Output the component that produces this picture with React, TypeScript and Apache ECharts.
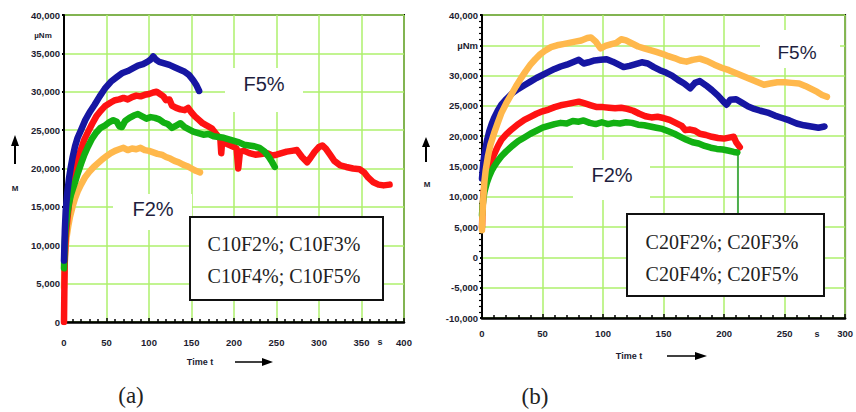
import React, { useEffect, useRef } from "react";
import * as echarts from "echarts";

// ---------- Panel (a) data: [time s, moment µNm] ----------
const a_C10F5: number[][] = [[0, 8000], [1, 12000], [2, 14500], [4, 17000], [6, 18800], [8, 20200], [10, 21400], [13, 22900], [16, 24000], [20, 25000], [25, 26300], [30, 27300], [36, 28300], [42, 29400], [48, 30400], [55, 31300], [62, 31900], [68, 32400], [75, 32700], [82, 33100], [87, 33400], [93, 33600], [98, 33900], [102, 34200], [105, 34600], [108, 34200], [112, 33900], [118, 33700], [124, 33500], [130, 33200], [136, 32900], [142, 32600], [147, 32200], [152, 31500], [156, 30800], [159, 30100]];
const a_C10F4: number[][] = [[0, 0], [0.5, 5000], [1, 8500], [2, 11000], [4, 13500], [6, 15500], [8, 17100], [10, 18500], [13, 19900], [16, 21200], [20, 22500], [24, 23800], [28, 24700], [33, 25800], [38, 26800], [43, 27500], [48, 28100], [55, 28600], [60, 28900], [65, 29000], [70, 29200], [75, 29000], [80, 29300], [85, 29500], [90, 29400], [95, 29600], [100, 29700], [105, 29900], [109, 30000], [113, 29700], [117, 29400], [120, 28900], [124, 29000], [127, 28200], [132, 27900], [137, 27700], [142, 27600], [146, 27900], [150, 27300], [154, 26800], [158, 26400], [163, 25900], [168, 25600], [174, 25200], [179, 24500], [184, 23800], [185, 22000], [186, 23500], [190, 23300], [196, 23000], [200, 22800], [203, 22600], [205, 20000], [207, 22200], [212, 22300], [218, 22000], [225, 21800], [232, 21900], [239, 22000], [245, 21700], [250, 21800], [256, 22000], [262, 22200], [268, 22300], [274, 22400], [280, 21500], [286, 20800], [290, 21400], [295, 22200], [300, 22800], [304, 23000], [308, 22600], [313, 21800], [318, 21000], [325, 20400], [332, 20200], [340, 20000], [348, 19900], [353, 19500], [358, 18800], [364, 18200], [370, 17900], [376, 17800], [383, 17900]];
const a_C10F3: number[][] = [[0, 7000], [1, 10500], [2, 12300], [4, 14200], [6, 15500], [8, 16500], [10, 17200], [13, 18200], [16, 19300], [20, 20600], [24, 21800], [28, 22800], [33, 23900], [38, 24700], [43, 25300], [48, 25600], [53, 26000], [58, 26300], [62, 26100], [65, 25500], [68, 25400], [72, 26200], [77, 26600], [82, 26900], [87, 27100], [92, 26800], [97, 26500], [102, 26700], [107, 26600], [112, 26400], [117, 26000], [122, 25800], [127, 25300], [132, 25600], [137, 25900], [142, 25400], [147, 25100], [152, 24800], [158, 24600], [164, 24400], [170, 24500], [176, 24200], [182, 24100], [188, 24000], [194, 23800], [200, 23600], [206, 23400], [212, 23100], [218, 23000], [224, 22900], [230, 22700], [236, 22200], [241, 21500], [245, 20800], [248, 20200]];
const a_C10F2: number[][] = [[0, 4500], [0.5, 6500], [1, 8000], [2, 9800], [3, 11000], [5, 12500], [7, 13700], [10, 15000], [13, 16100], [16, 17000], [20, 17900], [25, 18900], [30, 19600], [35, 20200], [40, 20700], [45, 21200], [50, 21600], [55, 22000], [60, 22300], [65, 22500], [70, 22700], [75, 22400], [80, 22600], [85, 22500], [90, 22700], [95, 22400], [100, 22300], [105, 22100], [110, 21900], [115, 21800], [120, 21500], [125, 21300], [130, 21000], [135, 20800], [140, 20500], [145, 20300], [150, 20000], [155, 19700], [160, 19500]];

// ---------- Panel (b) data ----------
const b_C20F5: number[][] = [[0, 4500], [0.5, 7500], [1, 9500], [2, 12500], [3, 14300], [5, 16800], [7, 18600], [10, 20500], [13, 22200], [16, 23800], [20, 25400], [24, 26800], [28, 28200], [32, 29500], [36, 30700], [40, 31800], [44, 32700], [48, 33500], [52, 34100], [57, 34700], [62, 35000], [67, 35200], [72, 35400], [77, 35600], [82, 35800], [87, 36200], [90, 36300], [94, 35600], [98, 34500], [102, 34900], [107, 35200], [111, 35400], [115, 36000], [119, 35800], [124, 35300], [129, 34800], [134, 34500], [139, 34200], [144, 33900], [149, 33600], [154, 33200], [159, 32900], [164, 32500], [169, 32300], [174, 32600], [180, 32800], [186, 32400], [192, 31800], [198, 31300], [204, 30900], [210, 30400], [216, 29900], [222, 29400], [228, 28900], [233, 28500], [238, 28700], [244, 28900], [250, 28900], [256, 28800], [262, 28700], [267, 28300], [272, 27800], [277, 27300], [281, 26800], [285, 26500]];
const b_C20F4: number[][] = [[0, 13000], [1, 15500], [2, 17000], [4, 19200], [6, 20800], [8, 22000], [10, 23000], [13, 24200], [16, 25200], [20, 26100], [25, 27100], [30, 27800], [35, 28400], [40, 29000], [45, 29600], [50, 30100], [55, 30600], [60, 31100], [65, 31500], [70, 31800], [75, 32200], [80, 32600], [84, 32000], [88, 32200], [93, 32500], [98, 32600], [103, 32700], [108, 32300], [113, 31800], [117, 31400], [122, 31600], [127, 31900], [132, 32200], [137, 32000], [142, 31400], [147, 30900], [152, 30500], [157, 30000], [162, 29300], [167, 28700], [172, 27900], [176, 28800], [180, 29100], [185, 28400], [190, 27600], [195, 26700], [200, 25600], [202, 25200], [205, 26000], [210, 26100], [215, 25500], [220, 24900], [225, 24500], [230, 24200], [236, 23900], [242, 23400], [248, 23000], [254, 22600], [260, 22100], [266, 21800], [272, 21600], [278, 21400], [283, 21600]];
const b_C20F3: number[][] = [[0, 5000], [0.5, 8000], [1, 10000], [2, 11800], [4, 13600], [6, 14900], [8, 16000], [10, 17000], [13, 18300], [16, 19400], [20, 20300], [25, 21200], [30, 22000], [35, 22700], [40, 23200], [45, 23700], [50, 24100], [55, 24400], [60, 24800], [65, 25100], [70, 25300], [75, 25500], [80, 25700], [85, 25400], [90, 25100], [95, 24800], [100, 24800], [105, 24700], [110, 24600], [115, 24700], [120, 24500], [125, 24200], [130, 23700], [135, 23300], [140, 23100], [145, 23200], [150, 23000], [155, 22700], [160, 22200], [165, 21700], [168, 21000], [172, 21100], [176, 20900], [180, 20400], [185, 20200], [190, 19900], [195, 19700], [200, 19600], [205, 19800], [208, 19900], [210, 19000], [213, 18200]];
const b_C20F2: number[][] = [[0, 7000], [0.5, 8500], [1, 9500], [2, 10800], [4, 12300], [6, 13400], [8, 14300], [10, 15000], [13, 15900], [16, 16700], [20, 17500], [25, 18400], [30, 19200], [35, 19800], [40, 20400], [45, 20900], [50, 21400], [55, 21700], [60, 22000], [65, 22200], [70, 22100], [75, 22500], [80, 22400], [84, 22600], [89, 22200], [94, 22000], [99, 22300], [104, 22000], [109, 22200], [114, 22100], [119, 22300], [124, 22200], [129, 21900], [134, 21800], [139, 21600], [144, 21400], [149, 21200], [154, 20800], [159, 20400], [164, 19900], [169, 19400], [174, 19000], [179, 18800], [184, 18400], [189, 18100], [194, 17900], [199, 17800], [204, 17600], [208, 17400], [211, 17300]];
const b_C20F2_drop: number[][] = [[211.5, 17300], [211.5, 7000]];

const legendA = ["C10F2%; C10F3%", "C10F4%; C10F5%"];
const legendB = ["C20F2%; C20F3%", "C20F4%; C20F5%"];

const BLUE = "#1616a2";
const RED = "#ff1212";
const GREEN = "#12b012";
const ORANGE = "#ffb84c";
const GRIDC = "#aef06c";
const LABEL = "#1c1c30";

function fmt(v: number): string {
  const s = Math.abs(v).toString().replace(/\B(?=(\d{3})+(?!\d))/g, ",");
  return (v < 0 ? "-" : "") + s;
}

const App: React.FC = () => {
  const ref = useRef<HTMLDivElement>(null);
  useEffect(() => {
    if (!ref.current) return;
    const chart = echarts.init(ref.current, undefined, { renderer: "svg" });
    const axLabel = { fontSize: 9.5, fontWeight: "bold" as const, color: LABEL, fontFamily: "Liberation Sans" };
    const lineSeries = (name: string, data: number[][], color: string, idx: number, z: number, width = 6.5) => ({
      name, type: "line", data, xAxisIndex: idx, yAxisIndex: idx, showSymbol: false, symbol: "none",
      lineStyle: { color, width, cap: "round", join: "round" }, itemStyle: { color }, z,
    });
    const txt = (x: number, y: number, text: string, font: string, fill = LABEL, align = "center") => ({
      type: "text", x, y, z: 20,
      style: { text, font, fill, textAlign: align, textVerticalAlign: "middle" },
    });
    const whiteBox = (x: number, y: number, w: number, h: number) => ({
      type: "rect", shape: { x, y, width: w, height: h }, style: { fill: "#fff" }, z: 1,
    });
    const legendBox = (x: number, y: number, w: number, h: number) => ({
      type: "rect", shape: { x, y, width: w, height: h }, style: { fill: "#fff", stroke: "#111", lineWidth: 2 }, z: 5,
    });
    const serif = "20px 'Liberation Serif', 'Times New Roman', serif";
    const caption = "23px 'Liberation Serif', 'Times New Roman', serif";
    const sans = "20px 'Liberation Sans', Arial, sans-serif";
    const small = "bold 9px 'Liberation Sans', Arial, sans-serif";
    chart.setOption({
      animation: false,
      grid: [
        { left: 64, top: 15, width: 340, height: 307, show: true, borderColor: "#000", borderWidth: 2, backgroundColor: "transparent" },
        { left: 482, top: 15, width: 366, height: 303, show: true, borderColor: "#000", borderWidth: 2, backgroundColor: "transparent" },
      ],
      xAxis: [
        {
          gridIndex: 0, type: "value", min: 0, max: 400, interval: 50,
          axisLine: { show: true, onZero: false, lineStyle: { color: "#000", width: 2.5 } },
          axisTick: { show: true, inside: true, length: 4, lineStyle: { color: "#000", width: 1.5 } },
          minorTick: { show: true, splitNumber: 5, length: 3, lineStyle: { color: "#000", width: 1.5 } },
          splitLine: { show: true, lineStyle: { color: GRIDC, width: 1.5 } },
          axisLabel: { ...axLabel, margin: 15 },
        },
        {
          gridIndex: 1, type: "value", min: 0, max: 300, interval: 50,
          axisLine: { show: true, onZero: false, lineStyle: { color: "#000", width: 2.5 } },
          axisTick: { show: true, inside: true, length: 4, lineStyle: { color: "#000", width: 1.5 } },
          minorTick: { show: true, splitNumber: 5, length: 3, lineStyle: { color: "#000", width: 1.5 } },
          splitLine: { show: true, lineStyle: { color: GRIDC, width: 1.5 } },
          axisLabel: { ...axLabel, margin: 10 },
        },
      ],
      yAxis: [
        {
          gridIndex: 0, type: "value", min: 0, max: 40000, interval: 5000,
          axisLine: { show: true, onZero: false, lineStyle: { color: "#000", width: 2 } },
          axisTick: { show: true, length: 2, lineStyle: { color: "#000", width: 2 } },
          splitLine: { show: true, lineStyle: { color: GRIDC, width: 1.5 } },
          axisLabel: { ...axLabel, margin: 4, formatter: (v: number) => fmt(v) },
        },
        {
          gridIndex: 1, type: "value", min: -10000, max: 40000, interval: 5000,
          axisLine: { show: true, onZero: false, lineStyle: { color: "#000", width: 2 } },
          axisTick: { show: true, length: 2, lineStyle: { color: "#000", width: 2 } },
          minorTick: { show: true, splitNumber: 5, length: 3, lineStyle: { color: "#000", width: 1.2 } },
          splitLine: { show: true, lineStyle: { color: GRIDC, width: 1.5 } },
          axisLabel: { ...axLabel, margin: 4, formatter: (v: number) => (v === 35000 ? "µNm" : fmt(v)) },
        },
      ],
      series: [
        lineSeries("C10F2%", a_C10F2, ORANGE, 0, 2),
        lineSeries("C10F4%", a_C10F4, RED, 0, 3),
        lineSeries("C10F3%", a_C10F3, GREEN, 0, 4),
        lineSeries("C10F5%", a_C10F5, BLUE, 0, 5),
        lineSeries("C20F2%", b_C20F2, GREEN, 1, 3),
        lineSeries("C20F2% drop", b_C20F2_drop, "#4cae4c", 1, 2, 2),
        lineSeries("C20F3%", b_C20F3, RED, 1, 2),
        lineSeries("C20F4%", b_C20F4, BLUE, 1, 4),
        lineSeries("C20F5%", b_C20F5, ORANGE, 1, 5),
      ],
      graphic: [
        whiteBox(225, 68, 78, 44),
        whiteBox(113, 194, 79, 36),
        whiteBox(760, 30, 80, 38),
        whiteBox(573, 160, 77, 40),
        txt(264, 84, "F5%", sans, "#1e1e3e"),
        txt(153, 209, "F2%", sans, "#1e1e3e"),
        txt(797, 52, "F5%", "19px 'Liberation Sans', Arial, sans-serif", "#1e1e3e"),
        txt(612, 175, "F2%", sans, "#1e1e3e"),
        legendBox(190, 217, 193, 83),
        txt(284, 244, legendA[0], serif, "#222"),
        txt(284, 276, legendA[1], serif, "#222"),
        legendBox(627, 214, 197, 82),
        txt(722, 242, legendB[0], serif, "#222"),
        txt(722, 274, legendB[1], serif, "#222"),
        txt(43, 35, "µNm", "bold 8px 'Liberation Sans', Arial, sans-serif"),
        txt(15, 188, "M", "bold 8px 'Liberation Sans', Arial, sans-serif"),
        txt(427, 184, "M", "bold 8px 'Liberation Sans', Arial, sans-serif"),
        txt(380, 342, "s", small),
        txt(817, 334, "s", small),
        txt(200, 362, "Time t", small),
        txt(629, 356, "Time t", small),
        { type: "line", shape: { x1: 15, y1: 164, x2: 15, y2: 144 }, style: { stroke: "#000", lineWidth: 2 }, z: 20 },
        { type: "polygon", shape: { points: [[11, 146], [19, 146], [15, 135]] }, style: { fill: "#000" }, z: 20 },
        { type: "line", shape: { x1: 426, y1: 162, x2: 426, y2: 145 }, style: { stroke: "#000", lineWidth: 2 }, z: 20 },
        { type: "polygon", shape: { points: [[422, 147], [430, 147], [426, 137]] }, style: { fill: "#000" }, z: 20 },
        { type: "line", shape: { x1: 235, y1: 362, x2: 264, y2: 362 }, style: { stroke: "#000", lineWidth: 1.5 }, z: 20 },
        { type: "polygon", shape: { points: [[262, 358], [262, 366], [273, 362]] }, style: { fill: "#000" }, z: 20 },
        { type: "line", shape: { x1: 667, y1: 356, x2: 697, y2: 356 }, style: { stroke: "#000", lineWidth: 1.5 }, z: 20 },
        { type: "polygon", shape: { points: [[695, 352], [695, 360], [707, 356]] }, style: { fill: "#000" }, z: 20 },
        txt(131, 395, "(a)", caption, "#222"),
        txt(535, 396, "(b)", caption, "#222"),
      ],
    });
    return () => chart.dispose();
  }, []);
  return <div ref={ref} style={{ position: "fixed", left: 0, top: 0, width: 856, height: 412, background: "#fff" }} />;
};

export default App;
